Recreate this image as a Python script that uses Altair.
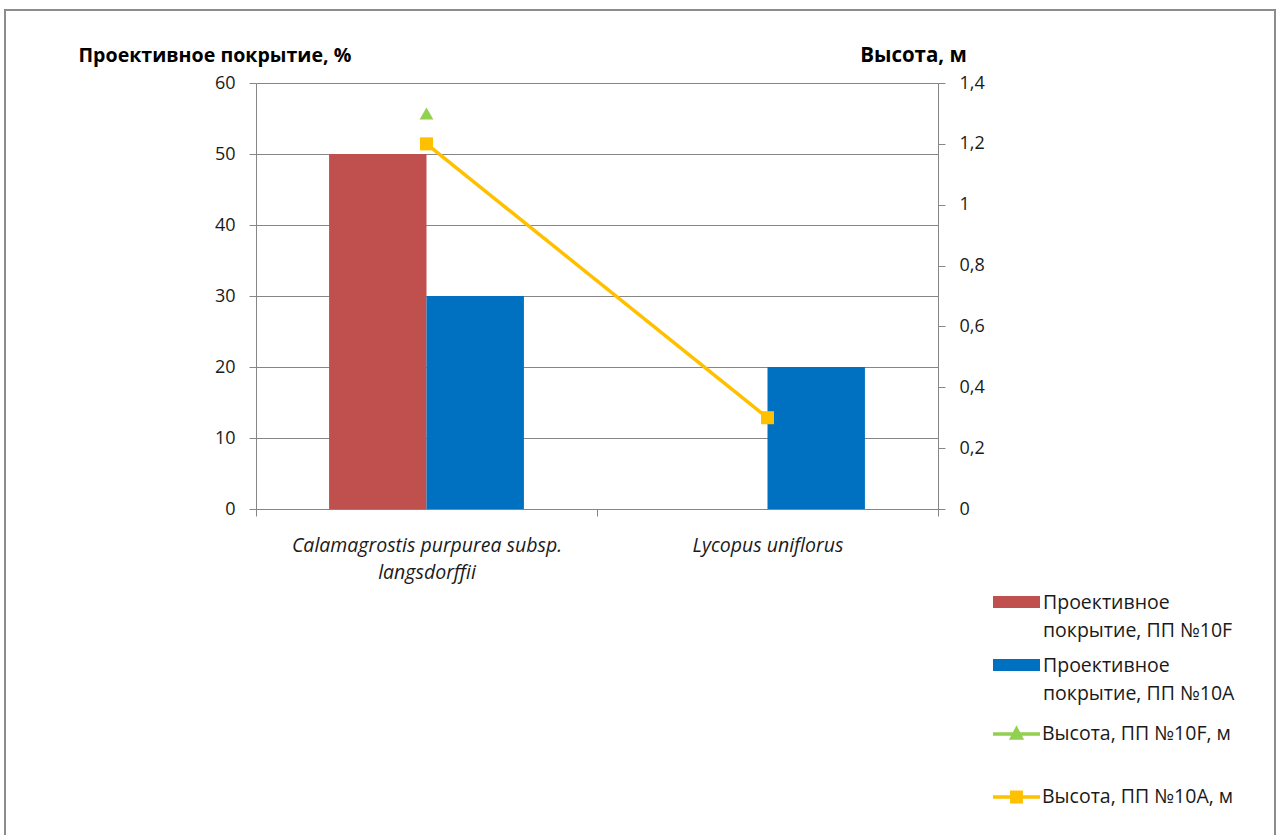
import altair as alt
import pandas as pd

# --- data -------------------------------------------------------------
species = ["Calamagrostis purpurea subsp. langsdorffii", "Lycopus uniflorus"]

cover_10F = [50, None]     # Проективное покрытие, %, ПП №10F
cover_10A = [30, 20]       # Проективное покрытие, %, ПП №10A
height_10F = [1.3, None]   # Высота, м, ПП №10F
height_10A = [1.2, 0.3]    # Высота, м, ПП №10A

left_ticks = [0, 10, 20, 30, 40, 50, 60]
right_ticks = [0, 0.2, 0.4, 0.6, 0.8, 1.0, 1.2, 1.4]

s_cover_F = "Проективное покрытие, ПП №10F"
s_cover_A = "Проективное покрытие, ПП №10A"
s_height_F = "Высота, ПП №10F, м"
s_height_A = "Высота, ПП №10A, м"

RED, BLUE, GREEN, YELLOW = "#C0504D", "#0070C0", "#92D050", "#FFC000"
AXIS_GREY = "#868686"
TEXT = "#1a1a1a"
FONT = "Open Sans"


def frame(values, series):
    return pd.DataFrame(
        [{"species": s, "series": series, "value": v}
         for s, v in zip(species, values) if v is not None]
    )


# --- shared encodings ---------------------------------------------------
x_scale = alt.Scale(type="band", domain=species, paddingInner=0, paddingOuter=0)
x_axis = alt.Axis(
    title=None, labelAngle=0, tickBand="extent", tickSize=7,
    tickColor=AXIS_GREY, domainColor=AXIS_GREY, grid=False,
    labelFont=FONT, labelFontSize=19.5, labelFontStyle="italic", labelColor=TEXT,
    labelPadding=20, labelLineHeight=27, labelLimit=400,
    labelExpr="datum.value == 'Calamagrostis purpurea subsp. langsdorffii' "
              "? ['Calamagrostis purpurea subsp.', 'langsdorffii'] : datum.label",
)
X = alt.X("species:N", scale=x_scale, axis=x_axis, sort=species)

left_axis = alt.Axis(
    values=left_ticks, tickSize=7, tickColor=AXIS_GREY, domainColor=AXIS_GREY,
    grid=True, gridColor=AXIS_GREY, labelFont=FONT, labelFontSize=18,
    labelColor=TEXT, labelPadding=14,
    title="Проективное покрытие, %", titleAngle=0, titleAlign="left",
    titleBaseline="alphabetic", titleX=-178, titleY=-22, titleFont=FONT,
    titleFontSize=19.6, titleFontWeight="bold", titleColor="#000000",
)
right_axis = alt.Axis(
    orient="right", values=right_ticks, tickSize=7, tickColor=AXIS_GREY,
    domainColor=AXIS_GREY, grid=False, labelFont=FONT, labelFontSize=18,
    labelColor=TEXT, labelPadding=14,
    labelExpr="replace(format(datum.value, '~g'), '.', ',')",
    title="Высота, м", titleAngle=0, titleAlign="center",
    titleBaseline="alphabetic", titleX=-25, titleY=-22, titleFont=FONT,
    titleFontSize=20.5, titleFontWeight="bold", titleColor="#000000",
)
Y_left = alt.Y("value:Q", scale=alt.Scale(domain=[0, 60], nice=False), axis=left_axis)
Y_right = alt.Y("value:Q", scale=alt.Scale(domain=[0, 1.4], nice=False), axis=right_axis)

offset = alt.XOffset(
    "series:N",
    scale=alt.Scale(domain=[s_cover_F, s_cover_A], paddingInner=0, paddingOuter=0.75),
)

# --- legend symbols (paths in the [-1, 1] symbol box) -------------------
RECT_PATH = "M-1,-0.89L1,-0.89L1,-0.38L-1,-0.38Z"
TRI_PATH = "M-1,0L1,0M-0.2,0.17L0,-0.21L0.2,0.17Z"
SQ_PATH = "M-1,0L1,0M-0.2,-0.2L0.2,-0.2L0.2,0.2L-0.2,0.2Z"
SYM_SIZE = 47 * 47
LEG_X = 737
LEG_FONT = 19.5


def bar_legend(lines, y):
    return alt.Legend(
        orient="none", legendX=LEG_X, legendY=y, padding=0,
        title=lines, titleOrient="right", titleAnchor="start", titleAlign="left",
        titleBaseline="top", titleFont=FONT, titleFontSize=LEG_FONT,
        titleFontWeight="normal", titleColor=TEXT, titleLineHeight=28,
        titlePadding=3, titleLimit=320,
        labelExpr="''", labelOffset=0,
        symbolType=RECT_PATH, symbolSize=SYM_SIZE, symbolStrokeWidth=0,
        symbolOpacity=1,
    )


def line_legend(color, path, y):
    return alt.Legend(
        orient="none", legendX=LEG_X - 2, legendY=y, padding=0, title=None,
        labelFont=FONT, labelFontSize=LEG_FONT, labelColor=TEXT, labelOffset=0,
        labelLimit=320, labelBaseline="middle",
        symbolType=path, symbolSize=SYM_SIZE, symbolFillColor=color,
        symbolStrokeColor=color, symbolStrokeWidth=3.5, symbolOpacity=1,
    )


def bars(values, series, color, legend):
    return alt.Chart(frame(values, series)).mark_bar().encode(
        x=X, xOffset=offset, y=Y_left,
        color=alt.Color("series:N", scale=alt.Scale(domain=[series], range=[color]),
                        legend=legend),
    )


def height_line(values, series, color, legend):
    return alt.Chart(frame(values, series)).mark_line(strokeWidth=3.5).encode(
        x=X, y=Y_right,
        color=alt.Color("series:N", scale=alt.Scale(domain=[series], range=[color]),
                        legend=legend),
    )


def height_points(values, series, color, shape, size):
    return alt.Chart(frame(values, series)).mark_point(
        shape=shape, filled=True, size=size, opacity=1, color=color
    ).encode(x=X, y=Y_right)


left = alt.layer(
    bars(cover_10F, s_cover_F, RED, bar_legend(["Проективное", "покрытие, ПП №10F"], 510.5)),
    bars(cover_10A, s_cover_A, BLUE, bar_legend(["Проективное", "покрытие, ПП №10A"], 573.5)),
).resolve_scale(color="independent")

right = alt.layer(
    height_line(height_10F, s_height_F, GREEN, line_legend(GREEN, TRI_PATH, 625.5)),
    height_line(height_10A, s_height_A, YELLOW, line_legend(YELLOW, SQ_PATH, 688.5)),
    height_points(height_10F, s_height_F, GREEN, "triangle-up", 190),
    height_points(height_10A, s_height_A, YELLOW, "square", 170),
).resolve_scale(color="independent")

# outer chart border
border = alt.Chart(pd.DataFrame({"k": [0]})).mark_rect(
    filled=False, stroke="#8c8c8c", strokeWidth=2
).encode(
    x=alt.value(-251), x2=alt.value(1019), y=alt.value(-73), y2=alt.value(790)
)

chart = (
    alt.layer(border, left, right)
    .resolve_scale(y="independent", color="independent")
    .properties(
        width=682, height=426,
        autosize=alt.AutoSizeParams(type="none"),
        padding={"left": 256, "top": 83, "right": 343, "bottom": 326},
        background="white",
    )
    .configure_view(strokeWidth=0)
)

chart.save("out.html", embed_options={"renderer": "svg", "actions": False})
